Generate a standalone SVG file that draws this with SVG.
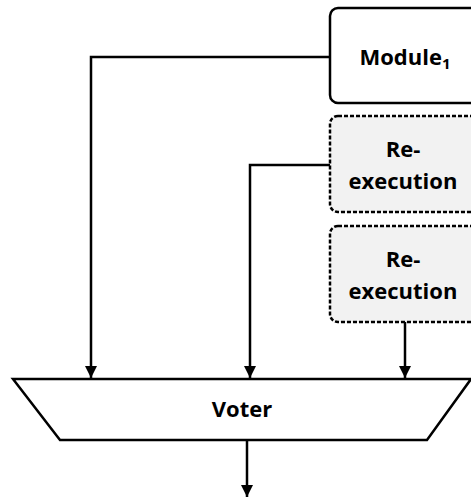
<svg xmlns="http://www.w3.org/2000/svg" width="471" height="499" viewBox="0 0 471 499">
<style>
.box{fill:#fff;stroke:#000;stroke-width:2.5}
.re{fill:#f2f2f2;stroke:#000;stroke-width:2.5;stroke-dasharray:4 2}
.t{font-family:"Open Sans","Liberation Sans",sans-serif;font-weight:bold;font-size:22px;fill:#000;text-anchor:middle}
.c{fill:none;stroke:#000;stroke-width:2.5}
</style>
<defs>
<marker id="ah" markerWidth="14" markerHeight="14" viewBox="0 0 14 14" refX="12" refY="7" orient="auto" markerUnits="userSpaceOnUse">
<path d="M0,1 L12,7 L0,13 Z" fill="#000"/>
</marker>
</defs>
<g id="module1">
<rect class="box" x="330" y="8" width="150" height="95" rx="8"/>
<text class="t" x="405" y="65" font-size="23">Module<tspan font-size="15" dy="4">1</tspan></text>
</g>
<g id="reexec1">
<rect class="re" x="330" y="116" width="150" height="96" rx="8"/>
<text class="t" x="403" y="157">Re-</text>
<text class="t" x="403" y="189">execution</text>
</g>
<g id="reexec2">
<rect class="re" x="330" y="226" width="150" height="96" rx="8"/>
<text class="t" x="403" y="267">Re-</text>
<text class="t" x="403" y="299">execution</text>
</g>
<g id="voter">
<polygon class="box" points="13,379 471,379 427,440 60,440"/>
<text class="t" x="242" y="417">Voter</text>
</g>
<g id="connectors">
<path class="c" d="M330,57 H91 V378" marker-end="url(#ah)"/>
<path class="c" d="M330,165 H250 V378" marker-end="url(#ah)"/>
<path class="c" d="M405,322 V378" marker-end="url(#ah)"/>
<path class="c" d="M247,440 V497" marker-end="url(#ah)"/>
</g>
</svg>
